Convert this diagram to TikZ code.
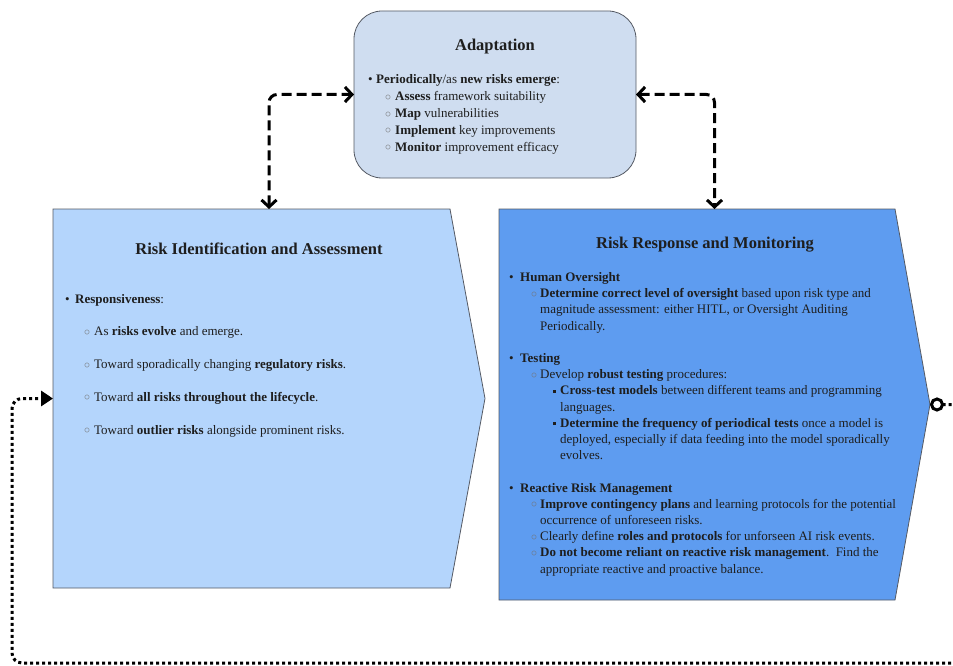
\documentclass[tikz,border=0pt]{standalone}
\usepackage{fontspec}
\setmainfont{Liberation Serif}
\usetikzlibrary{calc,arrows.meta}

\definecolor{adaptfill}{RGB}{207,221,240}
\definecolor{identfill}{RGB}{180,213,252}
\definecolor{respfill}{RGB}{94,156,240}
\definecolor{edgegray}{RGB}{85,90,100}
\definecolor{inkgray}{RGB}{30,30,30}

\newcommand{\itm}[3]{\hspace*{#1}\makebox[#2][l]{#3}}
\newcommand{\bigdot}{\textbullet}
\newcommand{\ringdot}{{\color{black!55}\raisebox{0.5pt}{$\circ$}}}
\newcommand{\sqdot}{\rule[2pt]{2.8pt}{2.8pt}}

\tikzset{
  panel/.style={draw=edgegray, line width=0.8pt},
  holder/.style={inner sep=0pt, outer sep=0pt},
  heading/.style={font=\fontsize{16.5}{19}\selectfont\bfseries, text=inkgray, anchor=base},
  body/.style={font=\fontsize{13}{16.2}\selectfont, text=inkgray, align=left, anchor=base west, inner sep=0pt},
  linkarrow/.style={line width=3pt, dash pattern=on 10pt off 5pt, rounded corners=8pt,
    {Straight Barb[length=7pt,width=15pt]}-{Straight Barb[length=7pt,width=15pt]}},
  feedback/.style={line width=3pt, dash pattern=on 3pt off 3pt, rounded corners=10pt,
    {Circle[open,length=14pt,width=14pt]}-{Triangle[length=12pt,width=15pt]}},
}

\begin{document}
\begin{tikzpicture}[x=1pt,y=-1pt]
  \clip (0,0) rectangle (953,666);

  % boxes
  \node[panel, holder, fill=adaptfill, rounded corners=28pt,
        minimum width=282pt, minimum height=167pt] (adapt) at (495,94.5) {};
  \node[holder, minimum width=432pt, minimum height=379pt] (ident) at (269,398.5) {};
  \node[holder, minimum width=431pt, minimum height=391pt] (resp) at (714.5,404.5) {};

  \draw[panel, fill=identfill] (ident.north west) -- ($(ident.north east)+(-35,0)$)
    -- (ident.east) -- ($(ident.south east)+(-35,0)$) -- (ident.south west) -- cycle;
  \draw[panel, fill=respfill] (resp.north west) -- ($(resp.north east)+(-35,0)$)
    -- (resp.east) -- ($(resp.south east)+(-35,0)$) -- (resp.south west) -- cycle;

  % titles
  \node[heading] (adapttitle) at (495,50.5) {Adaptation};
  \node[heading] (identtitle) at (259,254.5) {Risk Identification and Assessment};
  \node[heading] (resptitle) at (705,248.5) {Risk Response and Monitoring};

  % texts (anchored on their last line)
  \node[body, font=\fontsize{13}{16.75}\selectfont] (adaptlist) at (368,151) {%
    \itm{0pt}{8pt}{\bigdot}\textbf{Periodically}/as \textbf{new risks emerge}:\\
    \itm{17pt}{10pt}{\ringdot}\textbf{Assess} framework suitability\\
    \itm{17pt}{10pt}{\ringdot}\textbf{Map} vulnerabilities\\
    \itm{17pt}{10pt}{\ringdot}\textbf{Implement} key improvements\\
    \itm{17pt}{10pt}{\ringdot}\textbf{Monitor} improvement efficacy};

  \node[body] (identlist) at (65,434) {%
    \itm{0pt}{10pt}{\bigdot}\textbf{Responsiveness}:\\[16.5pt]
    \itm{19pt}{10pt}{\ringdot}As \textbf{risks evolve} and emerge.\\[16.5pt]
    \itm{19pt}{10pt}{\ringdot}Toward sporadically changing \textbf{regulatory risks}.\\[16.5pt]
    \itm{19pt}{10pt}{\ringdot}Toward \textbf{all risks throughout the lifecycle}.\\[16.5pt]
    \itm{19pt}{10pt}{\ringdot}Toward \textbf{outlier risks} alongside prominent risks.};

  \node[body] (resplist) at (509,573) {%
    \itm{0pt}{11pt}{\bigdot}\textbf{Human Oversight}\\
    \itm{22pt}{9pt}{\ringdot}\textbf{Determine correct level of oversight} based upon risk type and\\
    \hspace*{31pt}magnitude assessment: either HITL, or Oversight Auditing\\
    \hspace*{31pt}Periodically.\\[16.2pt]
    \itm{0pt}{11pt}{\bigdot}\textbf{Testing}\\
    \itm{22pt}{9pt}{\ringdot}Develop \textbf{robust testing} procedures:\\
    \itm{44pt}{7pt}{\sqdot}\textbf{Cross-test models} between different teams and programming\\
    \hspace*{51pt}languages.\\
    \itm{44pt}{7pt}{\sqdot}\textbf{Determine the frequency of periodical tests} once a model is\\
    \hspace*{51pt}deployed, especially if data feeding into the model sporadically\\
    \hspace*{51pt}evolves.\\[16.2pt]
    \itm{0pt}{11pt}{\bigdot}\textbf{Reactive Risk Management}\\
    \itm{22pt}{9pt}{\ringdot}\textbf{Improve contingency plans} and learning protocols for the potential\\
    \hspace*{31pt}occurrence of unforeseen risks.\\
    \itm{22pt}{9pt}{\ringdot}Clearly define \textbf{roles and protocols} for unforseen AI risk events.\\
    \itm{22pt}{9pt}{\ringdot}\textbf{Do not become reliant on reactive risk management}.\ \ Find the\\
    \hspace*{31pt}appropriate reactive and proactive balance.};

  % connectors
  \coordinate (fbturn) at (975,663);
  \coordinate (fbleft) at (12,663);
  \draw[linkarrow] (ident.north) |- (adapt.west);
  \draw[linkarrow] (adapt.east) -| (resp.north);
  \draw[feedback] (resp.east) -| (fbturn) -- (fbleft) |- (ident.west);
\end{tikzpicture}
\end{document}
